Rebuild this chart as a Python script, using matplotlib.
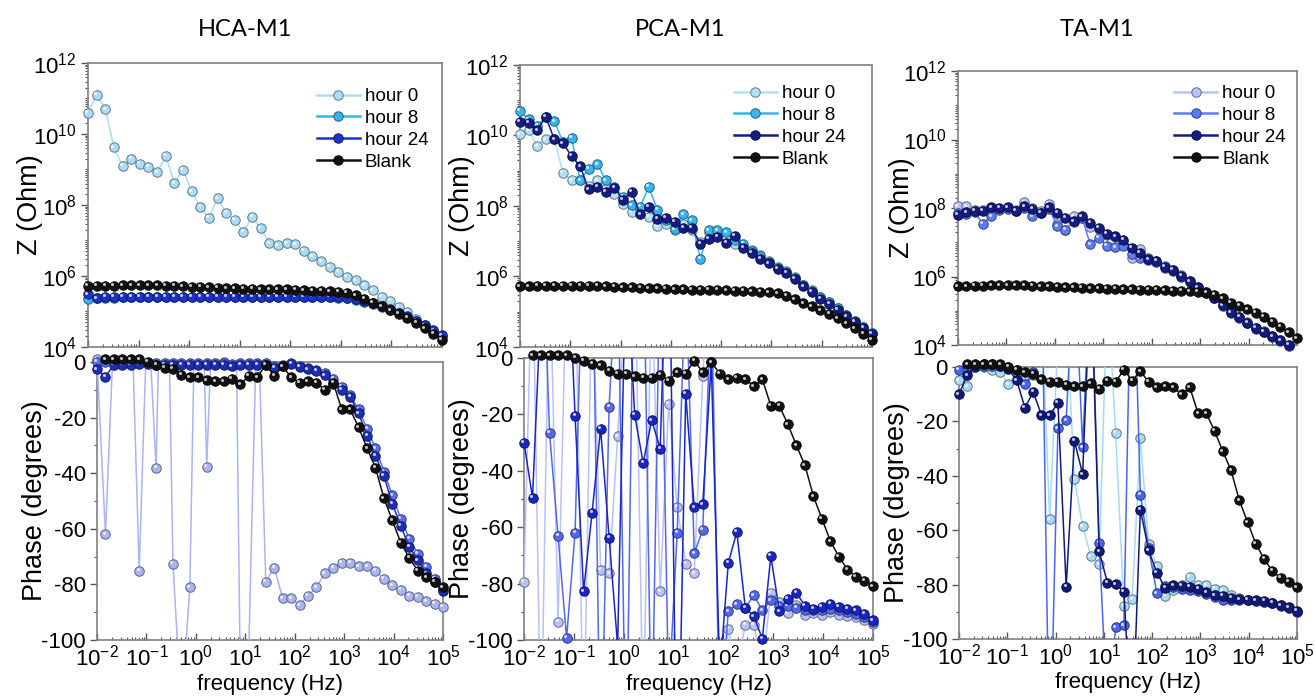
import numpy as np
import matplotlib
matplotlib.use("Agg")
import matplotlib.pyplot as plt
import matplotlib.transforms as mtransforms
from matplotlib.lines import Line2D
from matplotlib.ticker import FixedLocator, NullFormatter, LogFormatterSciNotation
from matplotlib.colors import to_rgb

plt.rcParams['font.family'] = ['Liberation Sans', 'DejaVu Sans']
plt.rcParams['mathtext.fontset'] = 'custom'
plt.rcParams['mathtext.rm'] = 'Liberation Sans'
plt.rcParams['axes.unicode_minus'] = False

# ---- frequency sweep (Hz), 42 points from 1e-2 to 1e5 ----
freq = [0.01, 0.01482, 0.02195, 0.03253, 0.04819, 0.0714, 0.1058, 0.1567,
        0.2322, 0.344, 0.5097, 0.7551, 1.119, 1.658, 2.456, 3.639, 5.391,
        7.988, 11.83, 17.53, 25.98, 38.49, 57.03, 84.49, 125.2, 185.5, 274.8,
        407.2, 603.3, 893.8, 1324, 1962, 2907, 4307, 6381, 9454, 14010, 20760,
        30750, 45560, 67500, 100000]

labels = ['hour 0', 'hour 8', 'hour 24', 'Blank']
titles = ['HCA-M1', 'PCA-M1', 'TA-M1']

# ---- |Z| as log10(Ohm) ----
blank_logz = [5.72, 5.72, 5.73, 5.73, 5.74, 5.74, 5.74, 5.74, 5.74, 5.73, 5.72,
              5.71, 5.70, 5.69, 5.68, 5.67, 5.66, 5.65, 5.64, 5.64, 5.63, 5.63,
              5.62, 5.62, 5.61, 5.60, 5.59, 5.58, 5.57, 5.55, 5.53, 5.46, 5.36,
              5.24, 5.15, 5.04, 4.94, 4.82, 4.68, 4.53, 4.37, 4.20]

hca_logz_h0 = [10.6, 11.1, 10.7, 9.63, 9.1, 9.3, 9.16, 9.08, 8.92, 9.38, 8.61,
               8.99, 8.39, 7.95, 7.64, 8.19, 7.78, 7.58, 7.24, 7.67, 7.34, 6.92,
               6.87, 6.92, 6.89, 6.71, 6.56, 6.42, 6.26, 6.12, 5.98, 5.88, 5.74,
               5.6, 5.41, 5.3, 5.13, 4.99, 4.8, 4.61, 4.42, 4.28]
hca_logz_h8 = [5.35, 5.38, 5.39, 5.39, 5.40, 5.40, 5.40, 5.40, 5.40, 5.40, 5.40,
               5.40, 5.40, 5.40, 5.40, 5.40, 5.40, 5.40, 5.40, 5.40, 5.40, 5.40,
               5.40, 5.40, 5.40, 5.40, 5.40, 5.40, 5.40, 5.39, 5.37, 5.33, 5.28,
               5.22, 5.14, 5.05, 4.95, 4.85, 4.73, 4.60, 4.46, 4.32]
hca_logz_h24 = [5.49, 5.37, 5.42, 5.42, 5.42, 5.42, 5.42, 5.42, 5.42, 5.42, 5.42,
                5.42, 5.42, 5.42, 5.42, 5.42, 5.42, 5.42, 5.42, 5.42, 5.42, 5.42,
                5.42, 5.42, 5.42, 5.42, 5.42, 5.42, 5.42, 5.41, 5.38, 5.34, 5.29,
                5.23, 5.15, 5.06, 4.96, 4.86, 4.74, 4.61, 4.47, 4.33]

pca_logz_h0 = [10.04, 10.15, 9.70, 9.89, 9.90, 8.94, 8.73, 8.75, 8.58, 8.73, 8.49,
               8.35, 8.07, 7.83, 7.88, 7.69, 7.43, 7.50, 7.31, 7.48, 7.31, 6.98,
               7.26, 7.17, 7.07, 6.93, 6.86, 6.74, 6.60, 6.44, 6.28, 6.15, 5.98,
               5.76, 5.61, 5.42, 5.27, 5.10, 4.91, 4.74, 4.57, 4.40]
pca_logz_h8 = [10.70, 10.46, 10.28, 10.52, 10.41, 9.82, 9.94, 8.73, 9.06, 9.19,
               8.73, 8.54, 8.26, 8.02, 7.98, 8.54, 7.90, 7.60, 7.34, 7.77, 7.60,
               6.51, 7.31, 7.31, 7.26, 7.03, 6.93, 6.72, 6.58, 6.41, 6.25, 6.13,
               5.96, 5.75, 5.60, 5.41, 5.27, 5.10, 4.91, 4.75, 4.58, 4.41]
pca_logz_h24 = [10.39, 10.36, 10.15, 10.53, 9.89, 9.78, 9.42, 9.13, 8.47, 8.54,
                8.40, 8.52, 8.18, 8.40, 7.76, 7.98, 7.64, 7.67, 7.55, 7.38, 7.38,
                6.93, 7.07, 7.12, 6.96, 7.15, 6.82, 6.67, 6.50, 6.38, 6.22, 6.10,
                5.93, 5.72, 5.56, 5.37, 5.23, 5.06, 4.87, 4.71, 4.55, 4.38]

ta_logz_h0 = [8.05, 8.05, 7.95, 7.93, 8.00, 7.98, 8.00, 7.95, 8.17, 8.00, 7.90,
              8.13, 7.52, 7.37, 7.76, 7.70, 7.45, 7.40, 7.20, 7.15, 7.05, 6.55,
              6.80, 6.55, 6.45, 6.30, 6.20, 6.04, 5.88, 5.70, 5.55, 5.39, 5.17,
              4.97, 4.83, 4.66, 4.51, 4.40, 4.27, 4.15, 4.01, 3.86]
ta_logz_h8 = [7.85, 7.83, 7.88, 7.54, 7.76, 7.95, 7.98, 7.90, 8.00, 7.76, 7.84,
              7.98, 7.47, 7.37, 7.60, 7.72, 6.94, 7.13, 6.89, 6.86, 6.89, 6.67,
              6.53, 6.48, 6.42, 6.26, 6.17, 6.00, 5.84, 5.67, 5.52, 5.36, 5.14,
              4.94, 4.80, 4.63, 4.48, 4.37, 4.24, 4.12, 3.98, 3.84]
ta_logz_h24 = [7.81, 7.87, 7.92, 7.92, 8.02, 8.00, 8.02, 7.92, 8.05, 7.98, 7.86,
               8.02, 7.86, 7.71, 7.61, 7.76, 7.57, 7.42, 7.25, 7.18, 7.08, 6.84,
               6.70, 6.51, 6.46, 6.28, 6.19, 6.02, 5.86, 5.69, 5.54, 5.38, 5.16,
               4.96, 4.82, 4.65, 4.50, 4.39, 4.26, 4.14, 4.00, 3.85]

# ---- phase (degrees); values outside -100..0 run off the axes ----
blank_phase = [np.nan, 1, 1, 1, 1, 1, 0, -1, -2, -2.5, -4.5, -5.5, -5.5, -6.5,
               -7, -7, -6, -8, -5, -5.5, -1, -5, -1.5, -5.5, -7.5, -7, -7.5, -10,
               -7.5, -17, -17, -23.5, -31, -38, -49, -57, -65, -70.5, -75, -77.5,
               -79, -81]

hca_phase_h0 = [1, -62, 12, 0, 28, -75, 22, -38, 100, -72.5, -126, -81, 86,
                -37.6, 45, 0, 135, -119, -102, 24, -79, -74, -85, -85, -87.5,
                -84, -81, -76, -74, -72.3, -72.3, -73.5, -73.5, -75, -78, -80.3,
                -82, -84, -84.5, -86, -87, -88]
hca_phase_h8 = [0, 0, -0.5, -0.5, -0.5, -0.5, -0.5, -0.5, -0.5, -0.5, -0.5,
                -0.5, -0.5, -0.5, -0.5, -0.5, -0.8, -0.5, -0.5, -0.5, -0.5, -1.5,
                -1, -0.5, -1.5, -2, -2.8, -3.8, -6, -9, -12, -17, -24, -31,
                -39.4, -48, -56.4, -63.5, -69, -73.7, -78, -82]
hca_phase_h24 = [-2.6, -5.3, -1, -1, -1, -0.8, -0.8, -1, -1, -1, -1, -1, -1, -1,
                 -1, -1, -1.5, -1, -1, -1, -1, -2, -1.5, -0.6, -1.8, -2.6, -3.2,
                 -4.8, -8, -10, -12.5, -18.5, -26.5, -33.7, -41, -51, -59, -66.5,
                 -71.3, -76, -79, -82.5]

pca_phase_h0 = [-79.3, 40, -140, 40, -93.5, 30, 40, -140, 30, -75.1, -76.3,
                -27.8, 30, 40, -130, 30, -82.8, -16.2, -52.7, -73.0, -76.3, -6.5,
                40, -140, -96, -110, -94.6, -94.6, -110, -83.2, -86.5, -90.6,
                -87.7, -91, -90.5, -91, -90, -91, -91.5, -92, -93, -94.5]
pca_phase_h8 = [30, 40, 60, -26.5, -63.1, -99.3, -61.9, 50, 50, -150, -17.2, 40,
                -150, 60, 50, -140, 40, -120, -61.9, 30, -69.2, -61, 20, -130,
                -89.8, -87.3, -88.6, -84.1, -89.5, -85.9, -87.9, -87.9, -88.6,
                -89.5, -89.5, -89.5, -88.9, -89.5, -90.1, -90.7, -91.8, -93.6]
pca_phase_h24 = [-30, -49.6, 20, 50, 50, 50, -20.5, -82.7, -54.8, -25, -63.7,
                 -102, 40, -20.2, -37.2, -22.1, -32.1, 64, -170, -12.7, -53, -51.8,
                 -1.5, -112, -72.7, -61.7, -88.6, -91.6, -99.5, -70.2, -89.8,
                 -85.3, -83.2, -87.9, -88.9, -88.3, -87.1, -88.3, -88.9, -89.5,
                 -90.7, -93.0]

ta_phase_h0 = [-4.9, -7.1, 0, 0, -1.2, -1.8, -6.3, -2, -3.7, -3, 22, -56, 10, 20,
               -41.2, -58.5, -69.5, -72.6, 30, -24.1, -87.8, -85.4, -26.2, -65,
               -73.2, -84.1, -82, -80, -77.1, -80, -80.2, -81.5, -82, -84, -85,
               -85.5, -86, -86.3, -86.8, -87.6, -88.5, -90]
ta_phase_h8 = [-1, -1, 0, 0.5, 0.5, 0.5, 0, -1, -6.3, -2, 40, -150, -22.6, -19.5,
               40, -29.5, 40, -64.6, -128, -95.7, -94.9, 60, -47, -66.5, -83.2,
               -80.5, -81, -81.5, -82, -82.5, -83.5, -84.5, -85.5, -85.5, -85.5,
               -85.8, -86, -86.3, -86.8, -87.8, -88.6, -90]
ta_phase_h24 = [-10, -3, 0.5, 1, 1, 0.5, -0.9, -4.9, -15, -9.1, -17.7, -17.7,
                -13.2, -80.7, -27.2, -39.4, 36, -67.7, -79.3, -79.9, -82.6, -137,
                -52.4, -67.4, -75.6, -81.1, -80.2, -80.5, -80.7, -81.5, -82.9,
                -83.9, -84.1, -84.8, -85.4, -85.6, -85.7, -86, -86.6, -87.6,
                -88.4, -89.6]

# colours as they appear in each panel (Z row / phase row)
z_colors = [['#acdcf4', '#36b2ee', '#1d33c8', '#111111'],
            ['#b2e0f6', '#3ab4ee', '#141c86', '#111111'],
            ['#b6c4f6', '#5c7cf0', '#141c80', '#111111']]
ph_colors = [['#aab4f2', '#5a70ea', '#1d2db5', '#111111'],
             ['#b8c2f6', '#5468e8', '#1a26c0', '#111111'],
             ['#a8daf4', '#4a66ee', '#121a78', '#111111']]

z_sets = [[hca_logz_h0, hca_logz_h8, hca_logz_h24, blank_logz],
          [pca_logz_h0, pca_logz_h8, pca_logz_h24, blank_logz],
          [ta_logz_h0, ta_logz_h8, ta_logz_h24, blank_logz]]
ph_sets = [[hca_phase_h0, hca_phase_h8, hca_phase_h24, blank_phase],
           [pca_phase_h0, pca_phase_h8, pca_phase_h24, blank_phase],
           [ta_phase_h0, ta_phase_h8, ta_phase_h24, blank_phase]]

# axes boxes in pixels: (left, right, top, bottom)
W, H = 1315, 697
z_boxes = [(88, 442, 63, 347), (520, 872, 65, 347), (958, 1297, 71, 345)]
ph_boxes = [(97, 443, 362, 640), (524, 873, 358, 640), (959, 1297, 367, 639)]
title_x = [245, 680, 1097]
legend_anchor = [(0.962, 0.912), (0.925, 0.929), (0.967, 0.949)]
zlabel_x = [-0.127, -0.128, -0.127]
phlabel_x = [-0.142, -0.140, -0.145]

fig = plt.figure(figsize=(W / 100, H / 100), dpi=100)


def add_axes(box):
    l, r, t, b = box
    return fig.add_axes([l / W, 1 - b / H, (r - l) / W, (b - t) / H])


def shade(c, f):
    rgb = np.array(to_rgb(c))
    if f < 0:
        return tuple(rgb * (1 + f))
    return tuple(rgb + (1 - rgb) * f)


def balls(ax, x, y, color, lo, hi, z):
    y = np.asarray(y, float)
    ax.plot(x, y, color=color, lw=1.1, zorder=z)
    ym = np.where((y >= lo) & (y <= hi), y, np.nan)
    ax.plot(x, ym, ls='none', marker='o', ms=6.8, mfc=color,
            mec=shade(color, -0.45), mew=0.7, clip_on=False, zorder=z + 0.1)
    hl = mtransforms.offset_copy(ax.transData, fig=fig, x=-1.1, y=1.1, units='points')
    ax.plot(x, ym, ls='none', marker='o', ms=2.2, mfc=shade(color, 0.75),
            mec='none', clip_on=False, transform=hl, zorder=z + 0.2)


def style(ax):
    for s in ax.spines.values():
        s.set_color('#808080')
        s.set_linewidth(1.2)
    ax.tick_params(axis='y', which='both', direction='out', labelsize=16,
                   color='#555555', right=False, pad=3)
    ax.tick_params(axis='x', which='both', direction='in', labelsize=16,
                   color='#555555', top=False, pad=3)
    ax.tick_params(which='major', length=5, width=1)
    ax.tick_params(which='minor', length=2.5, width=0.8)
    ax.set_xscale('log')
    ax.set_xlim(1e-2, 1e5)
    ax.xaxis.set_major_locator(FixedLocator([10.0 ** d for d in range(-2, 6)]))
    ax.xaxis.set_minor_locator(FixedLocator([m * 10.0 ** d for d in range(-2, 5)
                                             for m in range(2, 10)]))
    ax.xaxis.set_major_formatter(LogFormatterSciNotation())
    ax.xaxis.set_minor_formatter(NullFormatter())


for col in range(3):
    # impedance magnitude
    ax = add_axes(z_boxes[col])
    style(ax)
    ax.set_yscale('log')
    for k, (vals, c) in enumerate(zip(z_sets[col], z_colors[col])):
        balls(ax, freq, 10.0 ** np.asarray(vals), c, 10 ** 3.93, 1e12, 3 + k)
    ax.set_ylim(1e4, 1e12)
    ax.yaxis.set_major_locator(FixedLocator([10.0 ** d for d in range(4, 13, 2)]))
    ax.yaxis.set_minor_locator(FixedLocator([m * 10.0 ** d for d in range(4, 12)
                                             for m in range(2, 11) if not (m == 10 and d % 2 == 1)]))
    ax.yaxis.set_major_formatter(LogFormatterSciNotation())
    ax.yaxis.set_minor_formatter(NullFormatter())
    ax.tick_params(axis='x', labelbottom=False)
    ax.set_ylabel('Z (Ohm)', fontsize=19.5)
    ax.yaxis.set_label_coords(zlabel_x[col], 0.5)

    handles = [Line2D([], [], color=c, lw=1.8, marker='o', ms=6.8, mfc=c,
                      mec=shade(c, -0.45), mew=0.7) for c in z_colors[col]]
    ax.legend(handles, labels, loc='upper right', bbox_to_anchor=legend_anchor[col],
              frameon=False, fontsize=13.5, handlelength=2.3, handletextpad=0.27,
              labelspacing=0.25, borderaxespad=0, borderpad=0)

    # phase
    ax = add_axes(ph_boxes[col])
    style(ax)
    for k, (vals, c) in enumerate(zip(ph_sets[col], ph_colors[col])):
        balls(ax, freq, vals, c, -101.5, 4, 3 + k)
    ax.set_ylim(-100, 0)
    ax.yaxis.set_major_locator(FixedLocator(list(range(-100, 1, 20))))
    ax.yaxis.set_minor_locator(FixedLocator(list(range(-90, 0, 20))))
    ax.set_ylabel('Phase (degrees)', fontsize=19.5)
    ax.yaxis.set_label_coords(phlabel_x[col], 0.5)
    ax.set_xlabel('frequency (Hz)', fontsize=16)
    ax.xaxis.set_label_coords(0.5, -0.122)

    fig.text(title_x[col] / W, 1 - 30 / H, titles[col], ha='center', va='center',
             fontsize=17, family=['Lato', 'DejaVu Sans'])

fig.savefig('out.png', dpi=100)
